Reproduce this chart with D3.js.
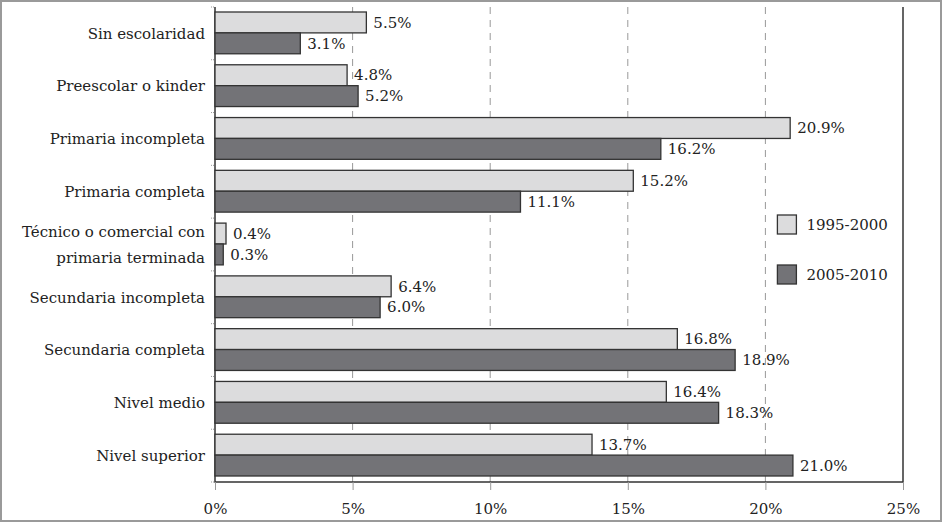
<!DOCTYPE html>
<html>
<head>
<meta charset="utf-8">
<script src="https://cdn.jsdelivr.net/npm/d3@7"></script>
<style>
  body { margin: 0; background: #fff; }
</style>
</head>
<body>
<div id="chart"></div>
<script>
// categories and series
const categories = [
  'Sin escolaridad',
  'Preescolar o kinder',
  'Primaria incompleta',
  'Primaria completa',
  'Técnico o comercial con|primaria terminada',
  'Secundaria incompleta',
  'Secundaria completa',
  'Nivel medio',
  'Nivel superior'
];
const seriesNames = ['1995-2000', '2005-2010'];
const values1995 = [5.5, 4.8, 20.9, 15.2, 0.4, 6.4, 16.8, 16.4, 13.7];
const values2005 = [3.1, 5.2, 16.2, 11.1, 0.3, 6.0, 18.9, 18.3, 21.0];
const xTicks = [0, 5, 10, 15, 20, 25];

const colors = ['#dcdcdd', '#737377'];
const FONT = "'DejaVu Serif', 'Liberation Serif', 'Times New Roman', serif";
const FS = 15;

const W = 944, H = 526;
const margin = {top: 7, right: 41, bottom: 44, left: 215};
const width = W - margin.left - margin.right;
const height = H - margin.top - margin.bottom;

const svg = d3.select('#chart')
    .append('svg')
    .attr('width', W)
    .attr('height', H)
    .style('font-family', FONT)
    .style('font-size', FS + 'px');

// outer frame
svg.append('rect')
    .attr('x', 1).attr('y', 1)
    .attr('width', W - 4).attr('height', H - 6)
    .attr('fill', 'none')
    .attr('stroke', '#9a9a9a')
    .attr('stroke-width', 2);

const g = svg.append('g')
    .attr('transform', 'translate(' + margin.left + ',' + margin.top + ')');

const x = d3.scaleLinear().domain([0, 25]).range([0, width]);
const y = d3.scaleBand().domain(categories).range([0, height]);
const inner = d3.scaleBand().domain(seriesNames).range([5, y.bandwidth() - 6]);

// dashed grid
g.selectAll('.grid')
    .data(xTicks.slice(1, -1))
    .enter().append('line')
    .attr('x1', (d) => x(d)).attr('x2', (d) => x(d))
    .attr('y1', 0).attr('y2', height)
    .attr('stroke', '#999')
    .attr('stroke-dasharray', '7,6');

// plot frame (left, bottom, right)
g.append('path')
    .attr('d', 'M0,0V' + height + 'H' + width + 'V0')
    .attr('fill', 'none')
    .attr('stroke', '#333')
    .attr('stroke-width', 1.5);

// small ticks on the category axis
g.selectAll('.ctick')
    .data(d3.range(categories.length + 1))
    .enter().append('line')
    .attr('x1', -4).attr('x2', 0)
    .attr('y1', (i) => i * y.step()).attr('y2', (i) => i * y.step())
    .attr('stroke', '#999')
    .attr('stroke-dasharray', '1,1');

// x axis
const xAxis = g.append('g')
    .attr('transform', 'translate(0,' + height + ')')
    .call(d3.axisBottom(x).tickValues(xTicks).tickFormat((d) => d + '%')
        .tickSize(8).tickPadding(13));
xAxis.attr('font-family', null).attr('font-size', null);
xAxis.select('.domain').remove();
xAxis.selectAll('line').attr('stroke', '#999');
xAxis.selectAll('text').attr('fill', '#222');

// category labels
categories.forEach((c) => {
  const lines = c.split('|');
  const cy = y(c) + y.bandwidth() / 2;
  const t = g.append('text')
      .attr('x', -10)
      .attr('text-anchor', 'end')
      .attr('fill', '#222');
  lines.forEach((ln, i) => {
    t.append('tspan')
        .attr('x', -10)
        .attr('y', cy + (i - (lines.length - 1) / 2) * 26)
        .attr('dy', '0.35em')
        .text(ln);
  });
});

// bars
const series = [values1995, values2005];
series.forEach((vals, si) => {
  const name = seriesNames[si];
  g.selectAll('.bar' + si)
      .data(vals)
      .enter().append('rect')
      .attr('x', 0)
      .attr('y', (d, i) => y(categories[i]) + inner(name))
      .attr('width', (d) => x(d))
      .attr('height', inner.bandwidth())
      .attr('fill', colors[si])
      .attr('stroke', '#333')
      .attr('stroke-width', 1.3);
  g.selectAll('.lab' + si)
      .data(vals)
      .enter().append('text')
      .attr('x', (d) => x(d) + 7)
      .attr('y', (d, i) => y(categories[i]) + inner(name) + inner.bandwidth() / 2)
      .attr('dy', '0.35em')
      .attr('fill', '#222')
      .text((d) => d.toFixed(1) + '%');
});

// legend
const legend = g.append('g')
    .attr('transform', 'translate(' + (x(20) + 12) + ',' + 208 + ')');
seriesNames.forEach((n, i) => {
  legend.append('rect')
      .attr('x', 0).attr('y', i * 50)
      .attr('width', 19).attr('height', 19)
      .attr('fill', colors[i])
      .attr('stroke', '#333')
      .attr('stroke-width', 1.3);
  legend.append('text')
      .attr('x', 29).attr('y', i * 50 + 10)
      .attr('dy', '0.35em')
      .attr('fill', '#222')
      .text(n);
});
</script>
</body>
</html>
